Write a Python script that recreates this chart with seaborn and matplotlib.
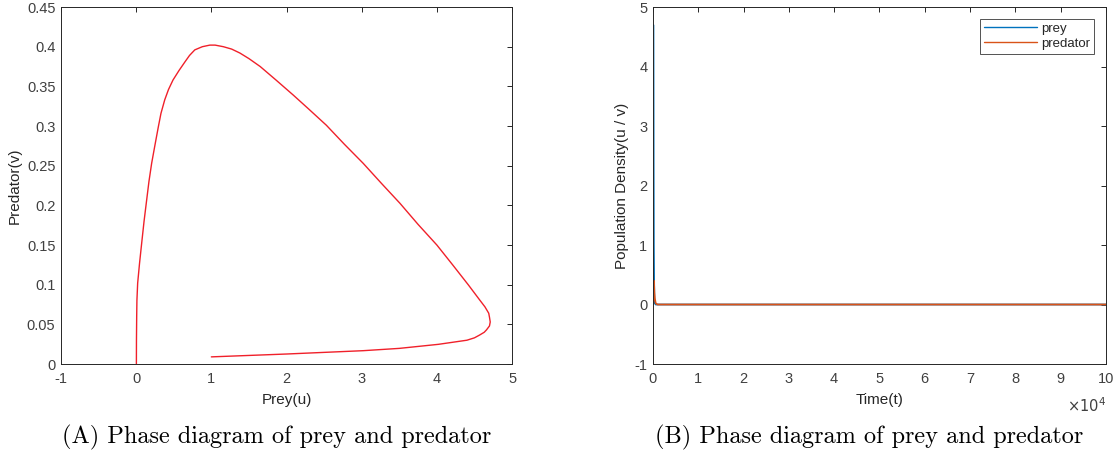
import numpy as np
import pandas as pd
import matplotlib
matplotlib.use("Agg")
import matplotlib.pyplot as plt
import seaborn as sns

# ---- data ----
# phase trajectory (prey u, predator v)
prey_u = [1.00, 2.00, 3.02, 3.50, 4.02, 4.40, 4.50, 4.57, 4.63, 4.66, 4.70, 4.71,
          4.70, 4.69, 4.64, 4.57, 4.42, 4.21, 4.00, 3.75, 3.51, 3.26, 3.02, 2.77,
          2.53, 2.30, 2.09, 1.86, 1.65, 1.50, 1.38, 1.27, 1.16, 1.05, 0.98, 0.88,
          0.78, 0.71, 0.65, 0.57, 0.49, 0.43, 0.38, 0.33, 0.295, 0.25, 0.206,
          0.17, 0.14, 0.105, 0.073, 0.045, 0.020, 0.010, 0.007, 0.004, 0.003]
pred_v = [0.009, 0.0126, 0.0168, 0.0197, 0.0248, 0.030, 0.033, 0.0366, 0.040,
          0.043, 0.048, 0.053, 0.059, 0.064, 0.072, 0.0807, 0.0996, 0.125, 0.150,
          0.176, 0.2025, 0.228, 0.253, 0.277, 0.301, 0.321, 0.339, 0.358, 0.375,
          0.385, 0.392, 0.397, 0.400, 0.402, 0.402, 0.400, 0.396, 0.389, 0.381,
          0.370, 0.358, 0.346, 0.333, 0.316, 0.299, 0.276, 0.253, 0.230, 0.207,
          0.180, 0.152, 0.127, 0.102, 0.080, 0.060, 0.030, 0.000]

# time series (spike right at t ~ 0, then both ~0 up to t = 1e5)
time_t = [0, 60, 120, 180, 240, 300, 400, 600, 1000, 100000]
prey_series = [1.00, 4.70, 3.00, 1.00, 0.40, 0.10, 0.02, 0.00, 0.00, 0.00]
pred_series = [0.009, 0.053, 0.25, 0.40, 0.33, 0.20, 0.10, 0.02, 0.00, 0.00]
series_names = ["prey", "predator"]
series_colors = ["#0072BD", "#D95319"]

time_ticks = [0, 1, 2, 3, 4, 5, 6, 7, 8, 9, 10]   # in units of 10^4
caption_a = "(A) Phase diagram of prey and predator"
caption_b = "(B) Phase diagram of prey and predator"

# ---- style ----
sns.set_theme(style="white")
plt.rcParams["font.family"] = ["Liberation Sans", "DejaVu Sans"]
txt = "#262626"
plt.rcParams.update({
    "axes.edgecolor": txt, "axes.linewidth": 0.7,
    "xtick.color": txt, "ytick.color": txt,
    "xtick.labelcolor": "#404040", "ytick.labelcolor": "#404040",
    "xtick.direction": "in", "ytick.direction": "in",
    "xtick.major.size": 3.5, "ytick.major.size": 3.5,
    "xtick.major.width": 0.7, "ytick.major.width": 0.7,
    "xtick.major.pad": 6, "ytick.major.pad": 4,
    "xtick.top": True, "ytick.right": True,
    "xtick.labelsize": 10.5, "ytick.labelsize": 10.5,
    "axes.labelsize": 11, "axes.labelcolor": txt,
})

fig = plt.figure(figsize=(11.17, 4.63), dpi=100)
ax1 = fig.add_axes([0.0546, 0.2138, 0.4038, 0.771])
ax2 = fig.add_axes([0.5846, 0.2138, 0.4055, 0.771])

# ---- left: phase diagram ----
phase = pd.DataFrame({"u": prey_u, "v": pred_v})
sns.lineplot(data=phase, x="u", y="v", sort=False, estimator=None,
             color="#f0202a", linewidth=1.0, ax=ax1)
ax1.set_xlim(-1, 5)
ax1.set_ylim(0, 0.45)
ax1.set_xticks(np.arange(-1, 6, 1))
ax1.set_yticks(np.arange(0, 0.46, 0.05))
ax1.set_yticklabels(["0", "0.05", "0.1", "0.15", "0.2", "0.25", "0.3", "0.35", "0.4", "0.45"])
ax1.set_xticklabels([str(i) for i in range(-1, 6)])
ax1.set_xlabel("Prey(u)", labelpad=5)
ax1.set_ylabel("Predator(v)", labelpad=4)

# ---- right: time series ----
ts = pd.DataFrame({
    "t": time_t * 2,
    "value": prey_series + pred_series,
    "species": [series_names[0]] * len(time_t) + [series_names[1]] * len(time_t),
})
sns.lineplot(data=ts, x="t", y="value", hue="species", hue_order=series_names,
             palette=series_colors, sort=False, estimator=None,
             linewidth=1.3, ax=ax2)
ax2.set_xlim(0, 100000)
ax2.set_ylim(-1, 5)
ax2.set_xticks([k * 10000 for k in time_ticks])
ax2.set_xticklabels([str(k) for k in time_ticks])
ax2.set_yticks(np.arange(-1, 6, 1))
ax2.set_yticklabels([str(k) for k in range(-1, 6)])
ax2.text(1.0, -0.09, r"$\times10^{4}$", transform=ax2.transAxes,
         ha="right", va="top", fontsize=10.5, color="#404040")
ax2.set_xlabel("Time(t)", labelpad=5)
ax2.set_ylabel("Population Density(u / v)", labelpad=4)
leg = ax2.legend(loc="upper right", fontsize=9.5, frameon=True, fancybox=False,
                 handlelength=4.0, borderpad=0.3, labelspacing=0.2,
                 handletextpad=0.3, borderaxespad=0.9)
leg.get_frame().set_edgecolor(txt)
leg.get_frame().set_linewidth(0.7)
for line in leg.get_lines():
    line.set_linewidth(1.0)

# ---- captions ----
fig.text(0.248, 0.056, caption_a, family="cmr10", fontsize=17.5,
         ha="center", va="center", color="black")
fig.text(0.778, 0.056, caption_b, family="cmr10", fontsize=17.5,
         ha="center", va="center", color="black")

fig.savefig("out.png", dpi=100)
